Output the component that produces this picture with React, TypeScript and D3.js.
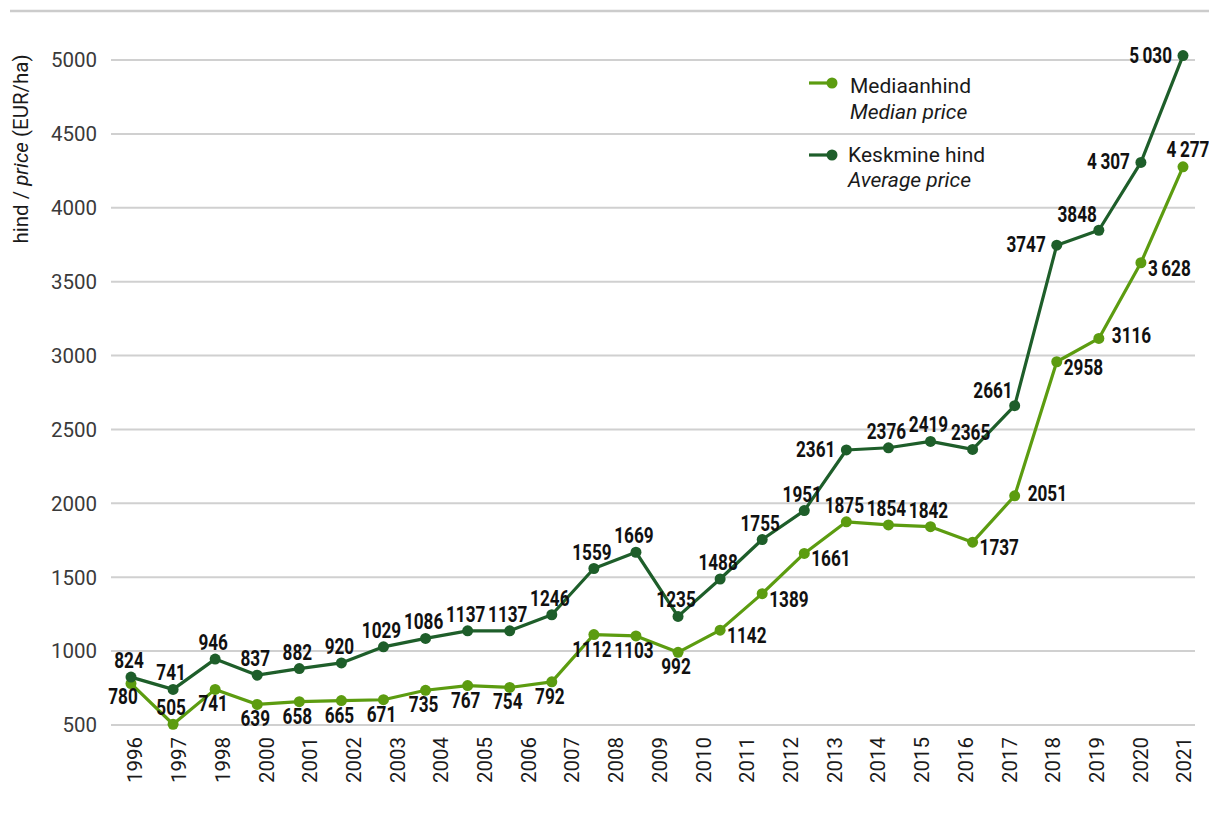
import React from "react";
import * as d3 from "d3";

const yearLabels = ["1996","1997","1998","2000","2001","2002","2003","2004","2005","2006","2007","2008","2009","2010","2011","2012","2013","2014","2015","2016","2017","2018","2019","2020","2021"];
const medianPrice = [780,505,741,639,658,665,671,735,767,754,792,1112,1103,992,1142,1389,1661,1875,1854,1842,1737,2051,2958,3116,3628,4277];
const averagePrice = [824,741,946,837,882,920,1029,1086,1137,1137,1246,1559,1669,1235,1488,1755,1951,2361,2376,2419,2365,2661,3747,3848,4307,5030];
const medianLabelPos = ["bl","t","b","b","b","b","b","b","b","b","b","b","b","b","rb","rb","rb","t","t","t","rb","r","rb","r","rb","tr"];
const averageLabelPos = ["t","t","t","t","t","t","t","t","t","t","t","t","t","t","t","t","t","l","t","t","t","tl","l","tl","l","l"];
const yTicks = [500,1000,1500,2000,2500,3000,3500,4000,4500,5000];
const spacedFrom = 24;

const LIGHT = "#5c9c10";
const DARK = "#1e5e2a";

const placements: Record<string, { a: string; dx: number; dy: number }> = {
  t: { a: "middle", dx: -2, dy: -9 },
  tr: { a: "middle", dx: 5, dy: -10 },
  b: { a: "middle", dx: -2, dy: 22 },
  bl: { a: "middle", dx: -8, dy: 20 },
  l: { a: "end", dx: -11, dy: 7 },
  r: { a: "start", dx: 13, dy: 5 },
  rb: { a: "start", dx: 7, dy: 13 },
  tl: { a: "end", dx: -2, dy: -8 },
};

function fmt(v: number, i: number) {
  if (i >= spacedFrom && v >= 1000) {
    const s = String(v);
    return s.slice(0, s.length - 3) + "\u2009" + s.slice(s.length - 3);
  }
  return String(v);
}

export default function App() {
  const W = 1209, H = 816;
  const plotLeft = 111, plotRight = 1195;
  const y = d3.scaleLinear().domain([500, 5000]).range([725, 60]);
  const xPt = d3.scalePoint<number>().domain(d3.range(medianPrice.length)).range([131, 1183]);
  const xLab = d3.scalePoint<string>().domain(yearLabels).range([135, 1184]);
  const line = d3.line<number>().x((_, i) => xPt(i)!).y((d) => y(d));

  const series = [
    { values: medianPrice, color: LIGHT, pos: medianLabelPos },
    { values: averagePrice, color: DARK, pos: averageLabelPos },
  ];

  const font = "Roboto, 'Noto Sans', sans-serif";

  return (
    <svg width={W} height={H} style={{ position: "absolute", left: 0, top: 0, display: "block", background: "#fff" }} fontFamily={font}>
      <line x1={10} x2={W} y1={11} y2={11} stroke="#cccccc" strokeWidth={2.5} />
      {yTicks.map((t) => (
        <g key={t}>
          <line x1={plotLeft} x2={plotRight} y1={y(t)} y2={y(t)} stroke="#d0d0d0" strokeWidth={2} />
          <text x={97} y={y(t)} dy="0.36em" textAnchor="end" fontSize={20.5} fill="#3a3a3a">{t}</text>
        </g>
      ))}
      <text transform="translate(28,149) rotate(-90)" textAnchor="middle" fontSize={20.5} fill="#1a1a1a">
        hind / <tspan fontStyle="italic">price</tspan> (EUR/ha)
      </text>
      {yearLabels.map((yr) => (
        <text key={yr} transform={`translate(${xLab(yr)},737) rotate(-90)`} dy="0.36em" textAnchor="end" fontSize={20.5} fill="#1a1a1a">{yr}</text>
      ))}
      {series.map((s, si) => (
        <g key={si}>
          <path d={line(s.values)!} fill="none" stroke={s.color} strokeWidth={3.2} strokeLinejoin="round" />
          {s.values.map((v, i) => (
            <circle key={i} cx={xPt(i)} cy={y(v)} r={5.5} fill={s.color} />
          ))}
        </g>
      ))}
      {series.map((s, si) => (
        <g key={"l" + si}>
          {s.values.map((v, i) => {
            const p = placements[s.pos[i]];
            return (
              <text key={i} transform={`translate(${xPt(i)! + p.dx},${y(v) + p.dy}) scale(0.78,1)`} textAnchor={p.a} fontSize={22} fontWeight={700} fill="#111">
                {fmt(v, i)}
              </text>
            );
          })}
        </g>
      ))}
      <g>
        <line x1={809} x2={834} y1={83} y2={83} stroke={LIGHT} strokeWidth={3.2} />
        <circle cx={832} cy={83} r={5.5} fill={LIGHT} />
        <text x={850} y={93} fontSize={21} fill="#1a1a1a">Mediaanhind</text>
        <text x={850} y={119} fontSize={21} fontStyle="italic" fill="#1a1a1a">Median price</text>
        <line x1={809} x2={834} y1={155} y2={155} stroke={DARK} strokeWidth={3.2} />
        <circle cx={832} cy={155} r={5.5} fill={DARK} />
        <text x={848} y={162} fontSize={21} fill="#1a1a1a">Keskmine hind</text>
        <text x={848} y={187} fontSize={21} fontStyle="italic" fill="#1a1a1a">Average price</text>
      </g>
    </svg>
  );
}
